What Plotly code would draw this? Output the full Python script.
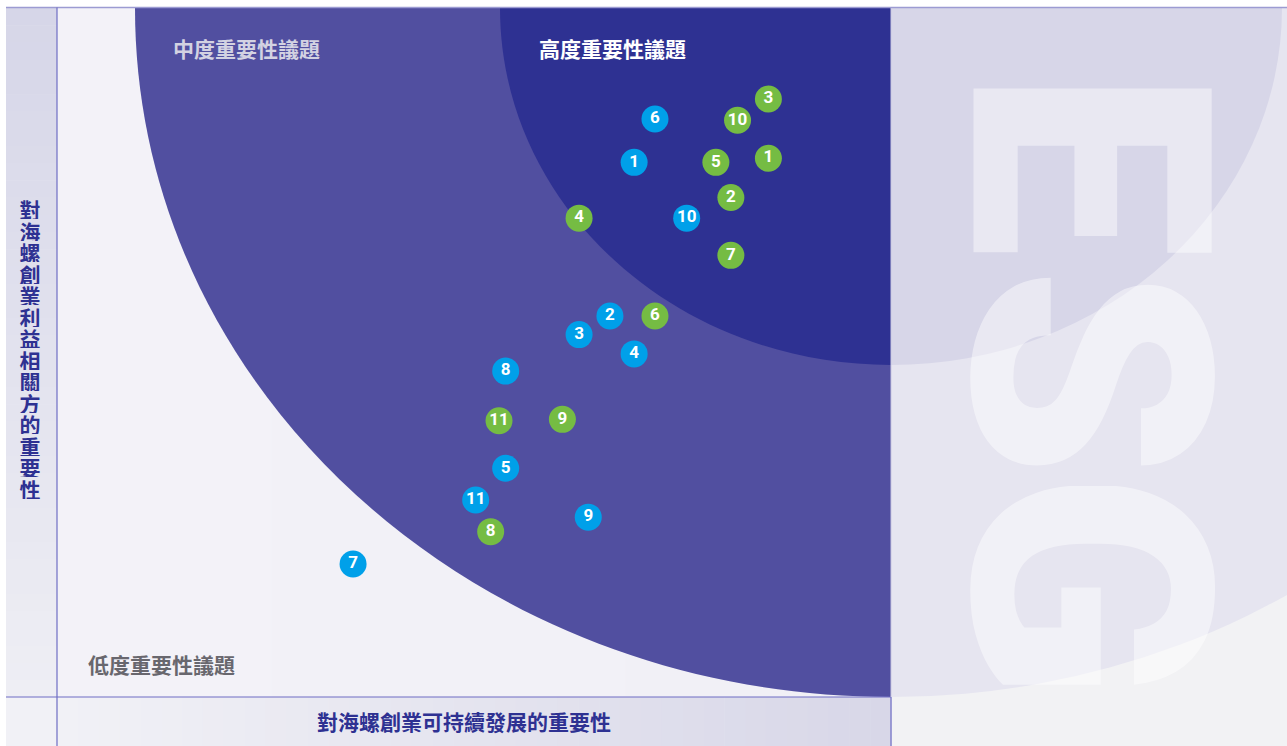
import plotly.graph_objects as go

# ---------------- data ----------------
topic_ids = [1, 2, 3, 4, 5, 6, 7, 8, 9, 10, 11]
# blue topics: (importance to sustainable development, importance to stakeholders) on a 0-10 scale
blue_x = [6.92, 6.63, 6.26, 6.92, 5.38, 7.17, 3.55, 5.38, 6.37, 7.55, 5.02]
blue_y = [7.76, 5.53, 5.26, 4.98, 3.32, 8.39, 1.93, 4.73, 2.61, 6.95, 2.86]
# green topics
green_x = [8.53, 8.08, 8.53, 6.26, 7.90, 7.17, 8.08, 5.20, 6.06, 8.16, 5.30]
green_y = [7.82, 7.25, 8.68, 6.95, 7.76, 5.53, 6.41, 2.40, 4.03, 8.37, 4.01]

x_title = "對海螺創業可持續發展的重要性"
y_title = "對海螺創業利益相關方的重要性"
zone_low = "低度重要性議題"
zone_mid = "中度重要性議題"
zone_high = "高度重要性議題"
watermark = ["E", "S", "G"]

# ---------------- layout helpers ----------------
W, H = 1287, 746
X0PX, X10PX = 57, 891
Y0PX, Y10PX = 697, 8
sx = (X10PX - X0PX) / 10.0
sy = (Y0PX - Y10PX) / 10.0


def X(px):
    return (px - X0PX) / sx


def Y(py):
    return (Y0PX - py) / sy


shapes = []


def rect(x0, y0, x1, y1, color):
    shapes.append(dict(type="rect", xref="x", yref="y", x0=X(x0), x1=X(x1),
                       y0=Y(y1), y1=Y(y0), fillcolor=color, line_width=0,
                       layer="below"))


def hexrgb(h):
    h = h.lstrip("#")
    return tuple(int(h[i:i + 2], 16) for i in (0, 2, 4))


def mix(c1, c2, t):
    a, b = hexrgb(c1), hexrgb(c2)
    return "rgb(%d,%d,%d)" % tuple(round(a[i] + (b[i] - a[i]) * t) for i in range(3))


def bands_h(x0, x1, y0, y1, c1, c2, n=40):
    step = (x1 - x0) / n
    for i in range(n):
        rect(x0 + i * step, y0, x0 + (i + 1) * step + 0.6, y1, mix(c1, c2, i / (n - 1)))


def bands_v(x0, x1, y0, y1, c1, c2, n=40):
    step = (y1 - y0) / n
    for i in range(n):
        rect(x0, y0 + i * step, x1, y0 + (i + 1) * step + 0.6, mix(c1, c2, i / (n - 1)))


def ellipse(cx, cy, a, b, color):
    shapes.append(dict(type="circle", xref="x", yref="y", x0=X(cx - a), x1=X(cx + a),
                       y0=Y(cy + b), y1=Y(cy - b), fillcolor=color, line_width=0,
                       layer="below"))


def quarter(cx, cy, a, b, color):
    k = 0.5523
    pts = [(cx, cy), (cx - a, cy), (cx - a, cy + k * b), (cx - k * a, cy + b), (cx, cy + b)]
    p = [(X(u), Y(v)) for u, v in pts]
    path = "M %f,%f L %f,%f C %f,%f %f,%f %f,%f Z" % (
        p[0][0], p[0][1], p[1][0], p[1][1], p[2][0], p[2][1], p[3][0], p[3][1], p[4][0], p[4][1])
    shapes.append(dict(type="path", xref="x", yref="y", path=path, fillcolor=color,
                       line_width=0, layer="below"))


def line(x0, y0, x1, y1, color, w=1.2):
    shapes.append(dict(type="line", xref="x", yref="y", x0=X(x0), x1=X(x1),
                       y0=Y(y0), y1=Y(y1), line=dict(color=color, width=w), layer="below"))


CX, CY = 891, 8
MED_A, MED_B = 756, 689
DARK_A, DARK_B = 391, 357

# backgrounds
bands_h(6, 891, 8, 697, "#F3F2F8", "#F1F0F6", n=10)
rect(891, 8, 1287, 746, "#F2F2F4")
ellipse(CX, CY, MED_A, MED_B, "#E6E5F0")
ellipse(CX, CY, DARK_A, DARK_B, "#D7D6E8")
quarter(CX, CY, MED_A, MED_B, "#514FA0")
quarter(CX, CY, DARK_A, DARK_B, "#2E3192")
bands_v(6, 57, 8, 697, "#D6D6E8", "#EEEEF4")
rect(6, 697, 57, 746, "#F1F1F6")
bands_h(57, 891, 697, 746, "#F1F1F6", "#D8D7E8")
rect(0, 0, 1287, 7, "#FFFFFF")
rect(0, 0, 6, 746, "#FFFFFF")
line(6, 7.5, 1287, 7.5, "#9C9BD2", 1.5)
line(57, 7.5, 57, 746, "#6E6DC4", 1.2)
line(6, 697, 891, 697, "#6E6DC4", 1.2)
line(891, 697, 891, 746, "#6E6DC4", 1.2)
line(891, 8, 891, 697, "#C9C8E2", 1.0)

fig = go.Figure()

for xs, ys, col in [(blue_x, blue_y, "#00A0E9"), (green_x, green_y, "#75BC43")]:
    fig.add_trace(go.Scatter(
        x=xs, y=ys, mode="markers+text", text=[str(t) for t in topic_ids],
        textposition="middle center",
        marker=dict(size=27, color=col, line_width=0),
        textfont=dict(family="Roboto", size=17, color="white", weight=700),
        hoverinfo="skip", showlegend=False, cliponaxis=False))

annotations = []
cjk = "Noto Sans CJK TC"

# watermark letters
for letter, cy in zip(watermark, [164, 372, 586]):
    annotations.append(dict(x=X(1088), y=Y(cy), xref="x", yref="y", text=letter,
                            showarrow=False, textangle=90, width=200, height=280,
                            font=dict(family="Roboto", size=335, weight=900,
                                      color="rgba(255,255,255,0.45)"),
                            xanchor="center", yanchor="middle"))

annotations.append(dict(x=X(171), y=Y(48), xref="x", yref="y", text=zone_mid,
                        showarrow=False, xanchor="left", yanchor="middle",
                        font=dict(family=cjk, size=21, weight=700, color="#D3D2E2")))
annotations.append(dict(x=X(537), y=Y(48), xref="x", yref="y", text=zone_high,
                        showarrow=False, xanchor="left", yanchor="middle",
                        font=dict(family=cjk, size=21, weight=700, color="#FFFFFF")))
annotations.append(dict(x=X(86), y=Y(664), xref="x", yref="y", text=zone_low,
                        showarrow=False, xanchor="left", yanchor="middle",
                        font=dict(family=cjk, size=21, weight=700, color="#68676E")))
annotations.append(dict(x=X(464), y=Y(721), xref="x", yref="y", text=x_title,
                        showarrow=False, xanchor="center", yanchor="middle",
                        font=dict(family=cjk, size=21, weight=700, color="#2E3192")))
for i, ch in enumerate(y_title):
    annotations.append(dict(x=X(30), y=Y(208.5 + i * 21.5), xref="x", yref="y", text=ch,
                            showarrow=False, xanchor="center", yanchor="middle",
                            height=21, width=24,
                            font=dict(family=cjk, size=21, weight=700, color="#2E3192")))

fig.update_layout(
    width=W, height=H, margin=dict(l=0, r=0, t=0, b=0),
    paper_bgcolor="white", plot_bgcolor="white",
    xaxis=dict(range=[X(0), X(W)], visible=False, fixedrange=True),
    yaxis=dict(range=[Y(H), Y(0)], visible=False, fixedrange=True),
    shapes=shapes, annotations=annotations,
)

fig.write_html("out.html", config={"displayModeBar": False},
               post_script="document.body.style.margin='0px';document.body.style.overflow='hidden';")
